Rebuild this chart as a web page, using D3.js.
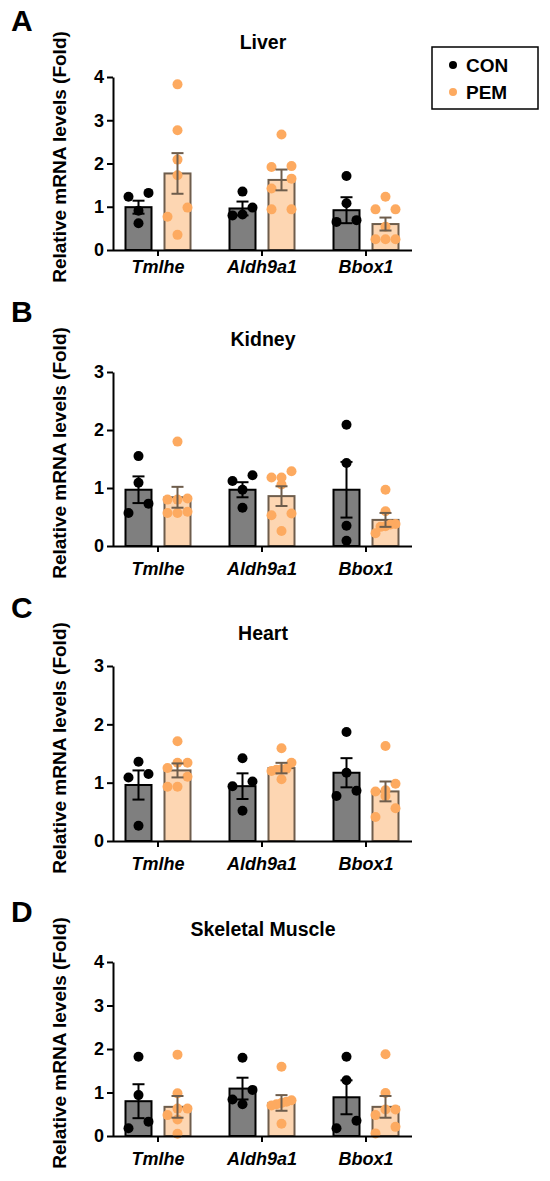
<!doctype html>
<html lang="en-US">
<head>
  <meta charset="utf-8">
  <title>Relative mRNA levels</title>
  <script type="text/javascript" src="https://d3js.org/d3.v7.min.js"></script>
  <style>
    body { margin: 0; background: #fff; }
    svg text { font-family: "Liberation Sans", Arial, sans-serif; font-weight: bold; fill: #000; }
  </style>
</head>
<body>
<svg id="chart" width="550" height="1181"></svg>
<script type="text/javascript">
// ---- data ----
var categories = ["Tmlhe", "Aldh9a1", "Bbox1"];
var groups = ["CON", "PEM"];
var tissues = ["Liver", "Kidney", "Heart", "Skeletal Muscle"];
var letters = ["A", "B", "C", "D"];
var yMax = [4, 3, 3, 4];

// [tissue][category]
var conMean = [[0.99, 0.96, 0.92], [0.97, 0.97, 0.97], [0.96, 0.94, 1.17], [0.80, 1.09, 0.89]];
var conSem  = [[0.15, 0.16, 0.30], [0.23, 0.13, 0.48], [0.25, 0.22, 0.25], [0.39, 0.25, 0.39]];
var pemMean = [[1.77, 1.62, 0.60], [0.84, 0.86, 0.45], [1.21, 1.25, 0.85], [0.67, 0.76, 0.67]];
var pemSem  = [[0.47, 0.24, 0.15], [0.18, 0.17, 0.12], [0.12, 0.09, 0.17], [0.25, 0.18, 0.25]];

var conPoints = [
  [[1.32, 1.23, 0.91, 0.62], [1.35, 0.98, 0.82, 0.80], [1.71, 1.08, 0.69, 0.65]],
  [[1.55, 1.09, 0.73, 0.57], [1.22, 1.12, 0.97, 0.66], [2.09, 1.43, 0.35, 0.09]],
  [[1.36, 1.15, 1.09, 0.26], [1.42, 1.02, 0.94, 0.52], [1.87, 1.17, 0.86, 0.77]],
  [[1.82, 0.94, 0.33, 0.18], [1.80, 1.06, 0.84, 0.73], [1.82, 1.28, 0.35, 0.18]]
];
var pemPoints = [
  [[3.83, 2.77, 2.09, 1.73, 0.98, 0.77, 0.35], [2.67, 1.94, 1.92, 1.65, 1.42, 0.94, 0.94], [1.23, 0.94, 0.94, 0.54, 0.25, 0.25, 0.25]],
  [[1.80, 0.82, 0.80, 0.80, 0.59, 0.57, 0.57], [1.29, 1.18, 1.18, 1.06, 0.56, 0.53, 0.26], [0.97, 0.60, 0.38, 0.37, 0.34, 0.33, 0.22]],
  [[1.71, 1.34, 1.34, 1.25, 1.10, 0.93, 0.93], [1.59, 1.34, 1.24, 1.23, 1.22, 1.20, 1.06], [1.63, 0.98, 0.87, 0.85, 0.77, 0.56, 0.41]],
  [[1.87, 0.98, 0.63, 0.63, 0.48, 0.38, 0.05], [1.59, 0.82, 0.79, 0.76, 0.73, 0.70, 0.28], [1.88, 0.99, 0.61, 0.61, 0.48, 0.21, 0.06]]
];

// ---- layout ----
var panelTop = [77, 372, 666, 962];
var panelBase = [250, 546, 841, 1136];
var titleY = [42, 339, 633, 929];
var letterY = [20, 311, 607, 911];
var labelPad = [4, 10, 10, 10];
var left = 113, right = 412;
var dotR = 5;

var colors = {
  CON: { fill: "#7f7f7f", stroke: "#000", dot: "#000" },
  PEM: { fill: "#fdd6b2", stroke: "#6e5d4c", dot: "#fdaa60" }
};

var svg = d3.select("#chart");

var x = d3.scaleBand().domain(categories).range([106, 418]);
var xInner = d3.scaleBand().domain(groups).range([-32.5, 32.5]).paddingInner(1 / 3);

// spread points of similar value side by side, like a column scatter
function swarm(values, y) {
  var d = dotR * 2;
  var rows = [];
  values.forEach(function(v) {
    var row = rows[rows.length - 1];
    if (row && Math.abs(y(row[0]) - y(v)) < d) row.push(v);
    else rows.push([v]);
  });
  var out = [];
  rows.forEach(function(row) {
    var k = row.length;
    row.forEach(function(v, j) {
      var off = k === 1 ? 0 : d - (2 * d) * j / (k - 1);
      out.push({ v: v, dx: off });
    });
  });
  return out;
}

tissues.forEach(function(tissue, t) {
  var y = d3.scaleLinear().domain([0, yMax[t]]).range([panelBase[t], panelTop[t]]);
  var g = svg.append("g");

  // panel letter
  g.append("text")
    .attr("x", 11).attr("y", letterY[t])
    .attr("dominant-baseline", "central")
    .style("font-size", "30px")
    .text(letters[t]);

  // title
  g.append("text")
    .attr("x", x("Aldh9a1") + x.bandwidth() / 2 + 1).attr("y", titleY[t])
    .attr("text-anchor", "middle").attr("dominant-baseline", "central")
    .style("font-size", "19.5px")
    .text(tissue);

  // y label
  g.append("text")
    .attr("transform", "translate(59," + (panelBase[t] - 93) + ") rotate(-90)")
    .attr("text-anchor", "middle").attr("dominant-baseline", "central")
    .style("font-size", "19px")
    .text("Relative mRNA levels (Fold)");

  var series = [
    { key: "CON", mean: conMean[t], sem: conSem[t], pts: conPoints[t] },
    { key: "PEM", mean: pemMean[t], sem: pemSem[t], pts: pemPoints[t] }
  ];

  series.forEach(function(s) {
    var c = colors[s.key];
    categories.forEach(function(cat, i) {
      var cx = x(cat) + x.bandwidth() / 2 + xInner(s.key) + xInner.bandwidth() / 2;
      var m = s.mean[i], e = s.sem[i];

      g.append("rect")
        .attr("x", cx - xInner.bandwidth() / 2)
        .attr("y", y(m))
        .attr("width", xInner.bandwidth())
        .attr("height", y(0) - y(m))
        .attr("fill", c.fill)
        .attr("stroke", c.stroke)
        .attr("stroke-width", 2);

      g.selectAll(null)
        .data(swarm(s.pts[i], y))
        .enter().append("circle")
        .attr("cx", function(p) { return cx + p.dx; })
        .attr("cy", function(p) { return y(p.v); })
        .attr("r", dotR)
        .attr("fill", c.dot);

      var eb = g.append("g").attr("stroke", c.stroke).attr("stroke-width", 2).attr("fill", "none");
      eb.append("line").attr("x1", cx).attr("x2", cx).attr("y1", y(m + e)).attr("y2", y(m - e));
      eb.append("line").attr("x1", cx - 6).attr("x2", cx + 6).attr("y1", y(m + e)).attr("y2", y(m + e));
      eb.append("line").attr("x1", cx - 6).attr("x2", cx + 6).attr("y1", y(m - e)).attr("y2", y(m - e));
    });
  });

  // axes
  var ya = g.append("g")
    .attr("transform", "translate(" + left + ",0)")
    .call(d3.axisLeft(y).ticks(yMax[t]).tickFormat(d3.format("d")).tickSize(6).tickPadding(3).tickSizeOuter(0));
  ya.selectAll("text").style("font-size", "18px");

  var xa = g.append("g")
    .attr("transform", "translate(0," + panelBase[t] + ")")
    .call(d3.axisBottom(x).tickSize(6).tickPadding(labelPad[t]).tickSizeOuter(0));
  xa.select(".domain").attr("d", "M" + left + ",0.5H" + right);
  xa.selectAll("text").style("font-size", "18px").style("font-style", "italic");

  [ya, xa].forEach(function(a) {
    a.selectAll("path, line").attr("stroke", "#000").attr("stroke-width", 2);
    a.selectAll("text").style("font-family", "'Liberation Sans', Arial, sans-serif").style("font-weight", "bold").attr("fill", "#000");
  });
});

// legend
var lg = svg.append("g");
lg.append("rect")
  .attr("x", 432).attr("y", 47).attr("width", 106).attr("height", 62)
  .attr("fill", "none").attr("stroke", "#000").attr("stroke-width", 1.5);
groups.forEach(function(k, i) {
  var ly = 65 + i * 27;
  lg.append("circle").attr("cx", 453).attr("cy", ly).attr("r", 4).attr("fill", colors[k].dot);
  lg.append("text").attr("x", 466).attr("y", ly)
    .attr("dominant-baseline", "central")
    .style("font-size", "19px")
    .text(k);
});
</script>
</body>
</html>
